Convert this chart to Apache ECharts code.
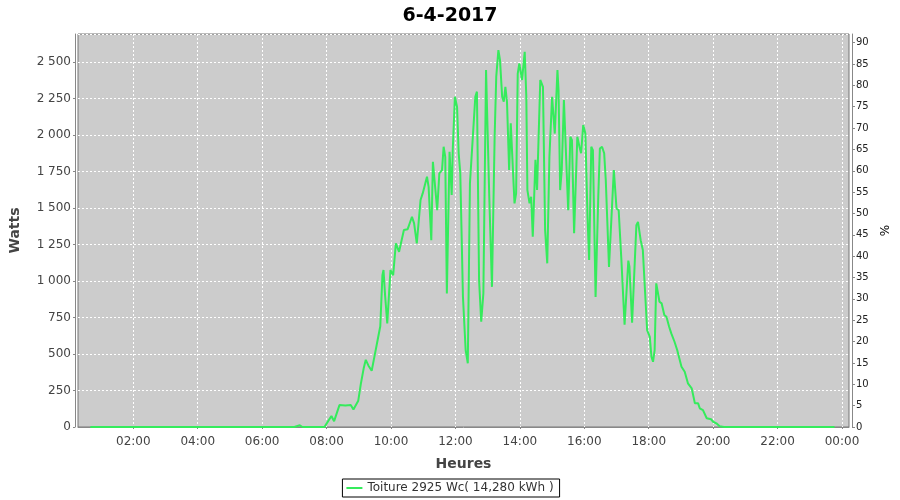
<!DOCTYPE html>
<html><head><meta charset="utf-8">
<script src="https://cdn.jsdelivr.net/npm/echarts@6/dist/echarts.min.js"></script>
<style>html,body{margin:0;padding:0;background:#fff}#c{width:900px;height:500px}</style>
</head><body><div id="c"></div>
<script>
const chartTitle = '6-4-2017';
const seriesName = 'Toiture 2925 Wc( 14,280 kWh )';
const peakPowerW = 2925;
const xAxisName = 'Heures';
const yAxisName = 'Watts';
const y2AxisName = '%';

const times = [
 '00:40','01:00','01:30','02:00','02:30','03:00','03:30','04:00','04:30','05:00','05:30','06:00','06:30','07:00','07:10','07:15','07:30','07:45','07:56',
 '08:02','08:09','08:14','08:24','08:35','08:45','08:50','08:59','09:04','09:09','09:13','09:18','09:24','09:29','09:34','09:40','09:44','09:46','09:49','09:53','09:59',
 '10:01','10:04','10:09','10:15','10:24','10:31','10:39','10:43','10:48','10:55','10:59','11:02','11:07','11:10','11:15','11:18','11:21','11:26','11:30','11:35','11:38','11:41','11:44','11:49','11:53','11:55','11:59',
 '12:03','12:06','12:09','12:14','12:19','12:23','12:27','12:32','12:37','12:40','12:44','12:48','12:52','12:57','13:00','13:03','13:08','13:13','13:16','13:20','13:23','13:27','13:30','13:33','13:36','13:40','13:43','13:46','13:50','13:53','13:56','13:59',
 '14:04','14:09','14:12','14:14','14:18','14:21','14:24','14:29','14:32','14:38','14:43','14:47','14:51','14:55','15:00','15:05','15:10','15:12','15:15','15:18','15:22','15:25','15:30','15:34','15:37','15:41','15:47','15:51','15:54','15:58',
 '16:02','16:06','16:09','16:13','16:16','16:21','16:26','16:29','16:33','16:37','16:40','16:46','16:49','16:55','17:00','17:04','17:09','17:15','17:22','17:24','17:29','17:37','17:40','17:45','17:49','17:54','17:57',
 '18:02','18:05','18:08','18:11','18:14','18:17','18:20','18:24','18:29','18:33','18:38','18:42','18:48','18:53','19:01','19:07','19:13','19:20','19:26','19:32','19:35','19:41','19:48','19:56',
 '20:00','20:06','20:12','20:20','20:30','21:00','21:30','22:00','22:30','23:00','23:30','23:46'
];
const watts = [
 0,0,0,0,0,0,0,0,0,0,0,0,0,0,12,0,0,0,0,
 35,75,40,150,148,150,120,180,300,400,460,420,385,480,575,690,1040,1075,900,710,1075,
 1060,1040,1258,1200,1350,1355,1440,1395,1258,1555,1600,1600,1715,1645,1280,1817,1815,1485,1738,1760,1920,1850,915,1885,1590,1897,2262,
 2193,1875,1738,890,527,436,1670,1965,2262,2297,1007,721,915,2445,2445,1577,960,1988,2400,2582,2513,2262,2228,2330,2228,1760,2080,2080,1532,1600,2420,2490,
 2377,2570,2262,1623,1532,1577,1303,1830,1623,2377,2330,1350,1121,1850,2262,2010,2445,2308,1623,1760,2240,2240,1485,1988,1965,1327,1988,1920,1875,2068,
 2010,1440,1144,1920,1897,890,1577,1908,1920,1875,1690,1097,1110,1760,1497,1485,1150,700,1140,1100,715,1383,1405,1280,1212,870,664,
 618,481,447,527,984,995,858,847,767,755,687,641,584,527,413,379,299,265,162,162,128,116,60,53,
 36,25,5,0,0,0,0,0,0,0,0,0
];
const xTickMinutes = [120,240,360,480,600,720,840,960,1080,1200,1320,1440];
const xMinMinutes = 17;
const xMaxMinutes = 1453;
const yLeftMax = 2692;

function toMin(t){const p=t.split(':');return (+p[0])*60+(+p[1]);}
function fmtMin(m){const h=Math.floor(m/60)%24, mm=m%60;return String(h).padStart(2,'0')+':'+String(mm).padStart(2,'0');}
function fmtW(v){return String(v).replace(/\B(?=(\d{3})+(?!\d))/g,' ');}

const data = times.map((t,i)=>[toMin(t), watts[i]]);

const FONT = 'DejaVu Sans';
const LINE_COLOR = '#35eb5c';
const chart = echarts.init(document.getElementById('c'), null, {renderer:'canvas'});
chart.setOption({
  animation:false,
  backgroundColor:'#ffffff',
  title:{text:chartTitle,left:'center',top:2,textStyle:{fontFamily:FONT,fontWeight:'bold',fontSize:19,color:'#000'}},
  grid:{left:77,right:51,top:34,bottom:73,show:true,backgroundColor:'#cccccc',borderColor:'#777777',borderWidth:1},
  legend:{bottom:3,left:'center',data:[{name:seriesName,icon:'rect'}],borderColor:'#000',borderWidth:1,borderRadius:0,padding:[3,6,3,4],
    itemWidth:16,itemHeight:2,itemGap:4,itemStyle:{color:LINE_COLOR,borderWidth:0},
    textStyle:{fontFamily:FONT,fontSize:12,color:'#333'}},
  xAxis:{type:'value',min:xMinMinutes,max:xMaxMinutes,offset:4,
    name:xAxisName,nameLocation:'middle',nameGap:26,nameTextStyle:{fontFamily:FONT,fontWeight:'bold',fontSize:14,color:'#444'},
    axisLine:{show:true,lineStyle:{color:'#888',width:1}},
    axisTick:{show:true,length:2,customValues:xTickMinutes,lineStyle:{color:'#888'}},
    axisLabel:{customValues:xTickMinutes,formatter:v=>fmtMin(v),fontFamily:FONT,fontSize:12,color:'#444',margin:5},
    splitLine:{show:true,lineStyle:{color:'#ffffff',type:[2,2],width:1}}
  },
  yAxis:[
    {type:'value',min:0,max:yLeftMax,interval:250,position:'left',offset:3,
     name:yAxisName,nameLocation:'middle',nameGap:53,nameRotate:90,nameTextStyle:{fontFamily:FONT,fontWeight:'bold',fontSize:14,color:'#444'},
     axisLine:{show:true,lineStyle:{color:'#888'}},axisTick:{show:true,length:2,lineStyle:{color:'#888'}},
     axisLabel:{formatter:v=>fmtW(v),fontFamily:FONT,fontSize:12,color:'#444',margin:4,showMaxLabel:false},
     splitLine:{show:true,lineStyle:{color:'#ffffff',type:[2,2],width:1}}},
    {type:'value',min:0,max:yLeftMax/peakPowerW*100,interval:5,position:'right',offset:3,
     name:y2AxisName,nameLocation:'middle',nameGap:24,nameRotate:90,nameTextStyle:{fontFamily:FONT,fontSize:12,color:'#000'},
     axisLine:{show:true,lineStyle:{color:'#888'}},axisTick:{show:true,length:3,lineStyle:{color:'#888'}},
     axisLabel:{fontFamily:FONT,fontSize:10,color:'#222',margin:4,showMaxLabel:false},
     splitLine:{show:false}}
  ],
  series:[{name:seriesName,type:'line',data:data,yAxisIndex:0,symbol:'none',showSymbol:false,
    lineStyle:{color:LINE_COLOR,width:2},itemStyle:{color:LINE_COLOR}}]
});
</script></body></html>
